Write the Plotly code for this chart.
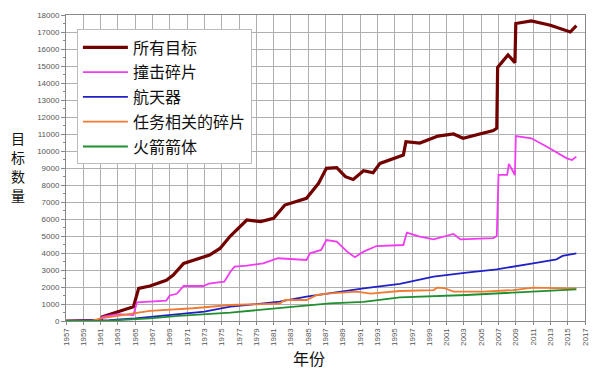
import plotly.graph_objects as go

# ---- data ----
names = ["所有目标", "撞击碎片", "航天器", "任务相关的碎片", "火箭箭体"]
y_title_chars = ["目", "标", "数", "量"]

all_x = [1957, 1961, 1961.2, 1963, 1964.8, 1965.4, 1966.7, 1968.6, 1969.4, 1970.6, 1972.5,
         1973.6, 1974.8, 1976, 1977.9, 1979.5, 1981, 1982.3, 1984.8, 1986.2, 1987.1, 1988.3,
         1989.3, 1990.2, 1991.4, 1992.5, 1993.3, 1996, 1996.3, 1997.9, 2000, 2001.8, 2002.9,
         2004.9, 2006.4, 2006.8, 2006.9, 2008.1, 2008.9, 2009.0, 2010.8, 2013, 2015.3, 2016]
all_y = [0, 20, 250, 550, 840, 1920, 2060, 2400, 2700, 3390, 3690,
         3880, 4270, 5000, 5940, 5850, 6040, 6820, 7220, 8100, 8980, 9020,
         8490, 8330, 8840, 8720, 9270, 9760, 10550, 10470, 10880, 11000, 10750,
         11000, 11200, 11340, 14920, 15650, 15200, 17500, 17650, 17400, 17000, 17370]

frag_x = [1961, 1961.2, 1963, 1964.8, 1965.2, 1966.7, 1968.6, 1969, 1969.8, 1970.6, 1972.9,
          1973.5, 1975.3, 1976, 1976.5, 1977.9, 1979.8, 1981.5, 1984.8, 1985.2, 1986.5,
          1987.1, 1988.3, 1989.5, 1990.4, 1991.4, 1992.9, 1996, 1996.4, 1997.9, 1999.5,
          2001.8, 2002.6, 2006.4, 2006.8, 2007.0, 2008.0, 2008.2, 2008.9, 2009.0, 2010.8,
          2012.6, 2014.9, 2015.5, 2016]
frag_y = [20, 250, 400, 350, 1100, 1150, 1200, 1500, 1600, 2060, 2060,
          2200, 2310, 2900, 3200, 3260, 3390, 3690, 3590, 3980, 4180,
          4760, 4670, 4080, 3750, 4080, 4410, 4470, 5200, 4960, 4800,
          5120, 4800, 4880, 5000, 8590, 8590, 9240, 8590, 10880, 10750,
          10250, 9570, 9470, 9670]

sc_x = [1957, 1960, 1962, 1965, 1967, 1970, 1973, 1976, 1981.7, 1984.8, 1987.5, 1991.4,
        1995.6, 1997.5, 1999.5, 2003.3, 2006.8, 2011, 2013.7, 2014.4, 2016]
sc_y = [0, 10, 50, 150, 250, 400, 550, 840, 1135, 1430, 1630, 1920,
        2180, 2370, 2610, 2840, 3040, 3390, 3630, 3830, 3980]

mrd_x = [1957, 1960, 1961, 1963, 1965, 1966.7, 1971.7, 1976, 1981.7, 1982.3, 1984.8, 1986,
         1987.5, 1990.6, 1992.2, 1995.6, 1999.5, 1999.9, 2000.7, 2001.8, 2005.2, 2008.7,
         2011, 2016]
mrd_y = [0, 10, 150, 300, 450, 590, 750, 940, 1030, 1235, 1235, 1530,
         1630, 1725, 1610, 1765, 1820, 1960, 1940, 1725, 1725, 1820,
         1960, 1900]

rb_x = [1957, 1960, 1962, 1966.7, 1970, 1976, 1981.7, 1987.5, 1991.4, 1995.6, 2003.3, 2011, 2016]
rb_y = [0, 5, 20, 160, 300, 490, 750, 1040, 1130, 1390, 1530, 1720, 1860]

x_ticks = list(range(1957, 2018, 2))
y_ticks = list(range(0, 18001, 1000))

colors = ["#720000", "#f03cf0", "#2020c8", "#f07a30", "#1f8f2f"]
widths = [3.2, 1.8, 1.8, 1.8, 1.8]
series = [(all_x, all_y), (frag_x, frag_y), (sc_x, sc_y), (mrd_x, mrd_y), (rb_x, rb_y)]

fig = go.Figure()
for i, ((xs, ys), n, c, w) in enumerate(zip(series, names, colors, widths)):
    fig.add_trace(go.Scatter(x=xs, y=ys, mode="lines", name=n, legendgroup=f"g{i}",
                             line=dict(color=c, width=w)))

cjk = "Noto Sans CJK SC"
annotations = []
for k, ch in enumerate(y_title_chars):
    annotations.append(dict(text=ch, xref="paper", yref="paper",
                            x=-0.093, y=(321 - (138 + 19 * k)) / 306,
                            xanchor="center", yanchor="middle", showarrow=False,
                            borderpad=0,
                            font=dict(family=cjk, size=14, color="#111")))
annotations.append(dict(text="年份", xref="paper", yref="paper", x=0.468, y=-0.121,
                        xanchor="center", yanchor="middle", showarrow=False,
                        font=dict(family=cjk, size=16, color="#111")))

fig.update_layout(
    width=600, height=370,
    margin=dict(l=66, r=15, t=15, b=49),
    paper_bgcolor="white", plot_bgcolor="white",
    font=dict(family="Liberation Sans, Arial", size=8, color="#444"),
    showlegend=True,
    legend=dict(x=0.021, y=0.953, xanchor="left", yanchor="top",
                bgcolor="white", bordercolor="#bbbbbb", borderwidth=1,
                font=dict(family=cjk, size=16, color="#111"),
                tracegroupgap=1, itemwidth=45),
    xaxis=dict(range=[1957, 2017], tickmode="array", tickvals=x_ticks,
               ticktext=[str(v) for v in x_ticks], tickangle=-90,
               showgrid=True, gridcolor="#b0b0b0", gridwidth=1,
               showline=True, linecolor="#888", mirror=True,
               ticks="outside", ticklen=3, tickcolor="#888", automargin=False,
               tickfont=dict(size=8, color="#555"), zeroline=False),
    yaxis=dict(range=[0, 18000], tickmode="array", tickvals=y_ticks,
               ticktext=[str(v) for v in y_ticks],
               showgrid=True, gridcolor="#b0b0b0", gridwidth=1,
               showline=True, linecolor="#888", mirror=True,
               ticks="outside", ticklen=4, tickcolor="#888", automargin=False,
               tickfont=dict(size=8, color="#555"), zeroline=False,
               minor=dict(ticks="outside", ticklen=2, dtick=500, tickcolor="#888")),
    annotations=annotations,
)

fig.write_html("out.html", config={"displayModeBar": False},
               post_script="document.body.style.margin='0';")
